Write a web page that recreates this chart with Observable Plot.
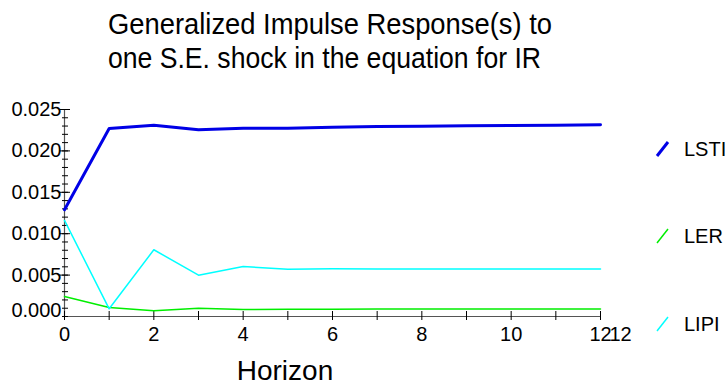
<!DOCTYPE html>
<html><head><meta charset="utf-8">
<script src="https://cdn.jsdelivr.net/npm/d3@7"></script>
<script src="https://cdn.jsdelivr.net/npm/@observablehq/plot@0.6"></script>
<style>
body{margin:0;background:#fff;font-family:"Liberation Sans",Arial,sans-serif;}
#wrap{position:relative;width:725px;height:390px;overflow:hidden;}
#title{position:absolute;left:0;top:0;}
#chart{position:absolute;left:0;top:92px;}
#over{position:absolute;left:0;top:0;pointer-events:none;}
</style></head>
<body><div id="wrap"><svg id="title" width="725" height="92"></svg><div id="chart"></div><svg id="over" width="725" height="390"></svg></div>
<script>
const titleLines = ["Generalized Impulse Response(s) to", "one S.E. shock in the equation for IR"];
const xLabel = "Horizon";
const horizon = [0,1,2,3,4,5,6,7,8,9,10,11,12];
const seriesNames = ["LSTI", "LER", "LIPI"];
const seriesColors = ["#0000e6", "#00ee00", "#00ffff"];
const seriesWidths = [3, 1.5, 1.5];
const LSTI = [0.0129, 0.0227, 0.0231, 0.02255, 0.02274, 0.02274, 0.02286, 0.02295, 0.02298, 0.02303, 0.02307, 0.0231, 0.02315];
const LER  = [0.00242, 0.00109, 0.00069, 0.001, 0.00085, 0.00088, 0.00089, 0.0009, 0.0009, 0.0009, 0.0009, 0.0009, 0.0009];
const LIPI = [0.0116, 0.00093, 0.00806, 0.00499, 0.00604, 0.00571, 0.00576, 0.00575, 0.00575, 0.00575, 0.00575, 0.00575, 0.00575];
const yMajor = [0.005, 0.010, 0.015, 0.020, 0.025];
const yMinor = d3.range(0, 26).map(i => i / 1000);
const xMajor = [0, 2, 4, 6, 8, 10, 12];

const seriesValues = [LSTI, LER, LIPI];
const rows = seriesNames.flatMap((s, k) => horizon.map((h, i) => ({series: s, h, v: seriesValues[k][i]})));

const font = '"Liberation Sans", Arial, sans-serif';
const plot = Plot.plot({
  width: 725, height: 298,
  marginLeft: 64, marginRight: 125, marginTop: 17, marginBottom: 74,
  style: {fontFamily: font, fontSize: "20px", color: "#000", background: "#fff", overflow: "visible"},
  x: {domain: [0, 12]},
  y: {domain: [0, 0.025]},
  marks: [
    Plot.ruleY([0], {stroke: "#555", strokeWidth: 1.2}),
    Plot.ruleX([0], {y1: 0, y2: 0.025, stroke: "#555", strokeWidth: 1.2}),
    Plot.axisY({ticks: yMinor, tickSize: 2, text: null, label: null, stroke: "#000"}),
    Plot.axisY({ticks: yMinor, tickSize: -4, text: null, label: null, stroke: "#000"}),
    Plot.axisY({ticks: yMajor, tickSize: 5, text: null, label: null, stroke: "#000"}),
    Plot.axisY({ticks: yMajor, tickSize: -6, text: null, label: null, stroke: "#000"}),
    Plot.axisY({ticks: yMajor, tickSize: 0, tickPadding: 3, tickFormat: d3.format(".3f"), label: null, fontSize: 20}),
    Plot.axisY({ticks: [0], tickSize: 0, tickPadding: 3, tickFormat: d3.format(".3f"), label: null, dy: -6, fontSize: 20}),
    Plot.axisX({ticks: horizon, tickSize: 4, text: null, label: null, stroke: "#000"}),
    Plot.axisX({ticks: horizon, tickSize: -5, text: null, label: null, stroke: "#000"}),
    Plot.axisX({ticks: xMajor, tickSize: 0, tickPadding: 10, tickFormat: d => String(d), label: null, fontSize: 20}),
    Plot.axisX({ticks: [12], tickSize: 0, tickPadding: 10, tickFormat: d => String(d), label: null, fontSize: 20, dx: 20}),
    ...seriesNames.map((s, k) => Plot.line(rows.filter(r => r.series === s), {x: "h", y: "v", stroke: seriesColors[k], strokeWidth: seriesWidths[k]}))
  ]
});
document.getElementById("chart").appendChild(plot);

// title
const tsvg = d3.select("#title");
const tInfo = [{y: 34, len: 444}, {y: 68, len: 433}];
titleLines.forEach((t, i) => {
  tsvg.append("text").attr("x", 108).attr("y", tInfo[i].y)
    .attr("font-family", font).attr("font-size", 29)
    .attr("textLength", tInfo[i].len).attr("lengthAdjust", "spacingAndGlyphs")
    .text(t);
});

// x label and legend
const over = d3.select("#over");
over.append("text").attr("x", 285).attr("y", 380).attr("text-anchor", "middle")
  .attr("font-family", font).attr("font-size", 28).text(xLabel);
const legY = [149, 236, 324];
seriesNames.forEach((s, k) => {
  over.append("line").attr("x1", 657).attr("y1", legY[k] + 7).attr("x2", 668).attr("y2", legY[k] - 7)
    .attr("stroke", seriesColors[k]).attr("stroke-width", seriesWidths[k]);
  over.append("text").attr("x", 684).attr("y", legY[k]).attr("dy", "0.35em")
    .attr("font-family", font).attr("font-size", 20).text(s);
});
</script></body></html>
